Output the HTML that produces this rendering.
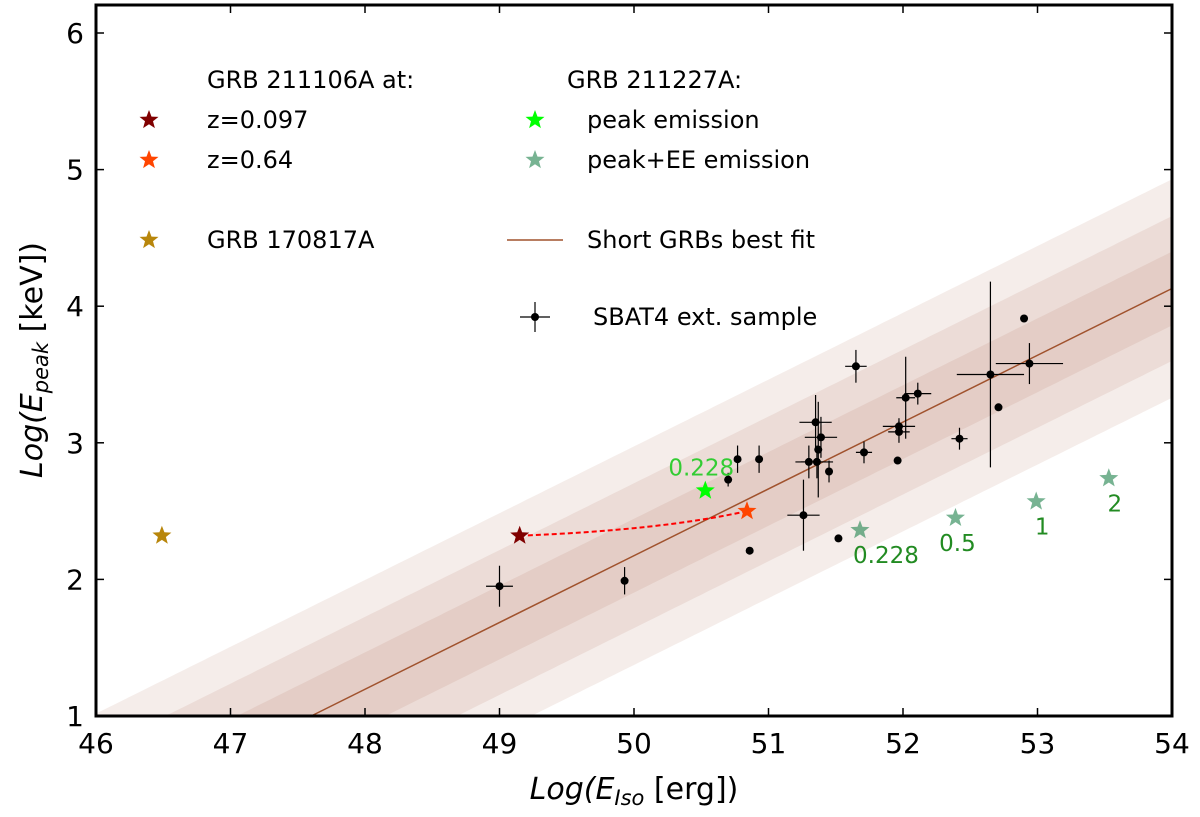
<!DOCTYPE html>
<html><head><meta charset="utf-8"><style>
html,body{margin:0;padding:0;background:#fff;overflow:hidden;width:1200px;height:817px;font-family:"Liberation Sans","DejaVu Sans",sans-serif}
svg{display:block;overflow:hidden}
svg text{font-family:"DejaVu Sans","Liberation Sans",sans-serif}
</style></head><body>
<svg id="c" width="1200" height="817" viewBox="0 0 1200 817"></svg>
<script>
const sampleX=[49.0,49.93,50.86,51.26,51.52,50.70,50.77,50.93,51.30,51.36,51.37,51.35,51.39,51.45,51.71,51.65,51.96,51.97,51.97,52.02,52.11,52.42,52.65,52.71,52.90,52.94];
const sampleY=[1.95,1.99,2.21,2.47,2.30,2.73,2.88,2.88,2.86,2.86,2.95,3.15,3.04,2.79,2.93,3.56,2.87,3.08,3.12,3.33,3.36,3.03,3.50,3.26,3.91,3.58];
const sampleYErr=[0.15,0.1,0,0.26,0,0.05,0.1,0.1,0.12,0.12,0.35,0.2,0.15,0.08,0.08,0.12,0,0.08,0.06,0.3,0.08,0.08,0.68,0,0,0.15];
const sampleXErr=[0.1,0,0,0.12,0,0,0,0,0.1,0.12,0,0.12,0.12,0,0.06,0.08,0,0.08,0.12,0.07,0.1,0.06,0.25,0,0,0.25];
const eeX=[51.68,52.39,52.99,53.53];
const eeY=[2.36,2.45,2.57,2.74];
const eeLabels=["0.228","0.5","1","2"];
const peakX=50.53, peakY=2.65;
const grbA=[49.15,2.32], grbB=[50.84,2.50], grb170=[46.49,2.32];
const fitX0=47.6, fitSlope=0.489, bands=[0.8,0.53,0.27];
const xTicks=[46,47,48,49,50,51,52,53,54];
const yTicks=[1,2,3,4,5,6];
const L=96,R=1172,T=5,B=716,YMAX=1+(B-T)/136.6;
const X=v=>L+(v-46)*(R-L)/8;
const Y=v=>B-(v-1)*136.6;
const svg=document.getElementById('c');const NS='http://www.w3.org/2000/svg';
function mk(t,a,p){const e=document.createElementNS(NS,t);for(const k in a)e.setAttribute(k,a[k]);(p||svg).appendChild(e);return e;}
const fy=x=>1+fitSlope*(x-fitX0);
const cl=v=>Math.max(1,Math.min(YMAX,v));
bands.forEach((o,i)=>{
 const up=[],lo=[];
 for(let k=0;k<=160;k++){const x=46+8*k/160;up.push(X(x).toFixed(1)+','+Y(cl(fy(x)+o)).toFixed(1));lo.unshift(X(x).toFixed(1)+','+Y(cl(fy(x)-o)).toFixed(1));}
 const p=mk('polygon',{points:up.concat(lo).join(' '),fill:'#a0522d','fill-opacity':0.1});
 
 
});
const fl=mk('line',{x1:X(fitX0),y1:Y(1),x2:X(54),y2:Y(fy(54)),stroke:'#a0522d','stroke-width':1.5});


function star(cx,cy,r,fill,name,op){const pts=[];for(let i=0;i<10;i++){const a=-Math.PI/2+i*Math.PI/5;const rr=i%2?r*0.42:r;pts.push((cx+rr*Math.cos(a)).toFixed(1)+','+(cy+rr*Math.sin(a)).toFixed(1));}
 const s=mk('polygon',{points:pts.join(' '),fill:fill,'fill-opacity':op||1});
 
 return s;}
sampleX.forEach((x,i)=>{const cx=X(x),cy=Y(sampleY[i]);
 if(sampleYErr[i])mk('line',{x1:cx,x2:cx,y1:Y(sampleY[i]+sampleYErr[i]),y2:Y(sampleY[i]-sampleYErr[i]),stroke:'#000','stroke-width':1.2});
 if(sampleXErr[i])mk('line',{x1:X(x-sampleXErr[i]),x2:X(x+sampleXErr[i]),y1:cy,y2:cy,stroke:'#000','stroke-width':1.2});
 const d=mk('circle',{cx:cx,cy:cy,r:4,fill:'#000'});
 
 
});
const dl=mk('path',{d:`M${X(grbA[0])},${Y(grbA[1])} Q${X(50.2)},${Y(2.36)} ${X(grbB[0])},${Y(grbB[1])}`,stroke:'#ff0000','stroke-width':2,'stroke-dasharray':'5,3',fill:'none'});


star(X(grbA[0]),Y(grbA[1]),10,'#800000','grb211106a-z0097');
star(X(grbB[0]),Y(grbB[1]),10,'#ff4500','grb211106a-z064');
star(X(grb170[0]),Y(grb170[1]),10,'#b8860b','grb170817a');
star(X(peakX),Y(peakY),10,'#00ff00','grb211227a-peak');
function txt(x,y,s,opt){const t=mk('text',Object.assign({x:x,y:y,'font-size':24,fill:'#000'},opt||{}));t.textContent=s;return t;}
const pl=txt(X(peakX)-4,Y(peakY)-15,'0.228',{fill:'#33cc33','text-anchor':'middle','font-size':23});


eeX.forEach((x,i)=>{star(X(x),Y(eeY[i]),10,'#2e8b57','grb211227a-ee-'+i,0.65);
 const t=txt(X(x)+(i==0?26:i==1?2:6),Y(eeY[i])+33,eeLabels[i],{fill:'#228b22','text-anchor':'middle','font-size':23});
 
 });
mk('rect',{x:L,y:T,width:R-L,height:B-T,fill:'none',stroke:'#000','stroke-width':3});
xTicks.forEach(v=>{mk('line',{x1:X(v),x2:X(v),y1:B,y2:B-8,stroke:'#000','stroke-width':1.5});mk('line',{x1:X(v),x2:X(v),y1:T,y2:T+8,stroke:'#000','stroke-width':1.5});
 const t=txt(X(v),B+37,String(v),{'text-anchor':'middle','font-size':28});
 
 });
yTicks.forEach(v=>{mk('line',{x1:L,x2:L+8,y1:Y(v),y2:Y(v),stroke:'#000','stroke-width':1.5});mk('line',{x1:R,x2:R-8,y1:Y(v),y2:Y(v),stroke:'#000','stroke-width':1.5});
 const t=txt(L-12,Y(v)+10,String(v),{'text-anchor':'end','font-size':28});
 
 });
const xt=mk('text',{x:634,y:799,'font-size':30,'text-anchor':'middle'});xt.innerHTML='<tspan font-style="italic">Log(E</tspan><tspan font-style="italic" font-size="21" dy="6">Iso</tspan><tspan dy="-6"> [erg])</tspan>';


const yt=mk('text',{x:0,y:0,'font-size':30,'text-anchor':'middle',transform:'translate(42,360) rotate(-90)'});yt.innerHTML='<tspan font-style="italic">Log(E</tspan><tspan font-style="italic" font-size="21" dy="6">peak</tspan><tspan dy="-6"> [keV])</tspan>';


const lg=mk('g',{});
txt(207,88,'GRB 211106A at:');
star(149,120,10,'#800000','legend-z0097');txt(207,128,'z=0.097');
star(149,160,10,'#ff4500','legend-z064');txt(207,168,'z=0.64');
star(149,240,10,'#b8860b','legend-grb170817a');txt(207,248,'GRB 170817A');
txt(567,88,'GRB 211227A:');
star(535,120,10,'#00ff00','legend-peak');txt(587,128,'peak emission');
star(535,160,10,'#2e8b57','legend-peak-ee',0.65);txt(587,168,'peak+EE emission');
const ll=mk('line',{x1:507,x2:563,y1:240,y2:240,stroke:'#a0522d','stroke-width':1.5});
txt(587,248,'Short GRBs best fit');
mk('line',{x1:520,x2:550,y1:317,y2:317,stroke:'#000','stroke-width':1.2});mk('line',{x1:535,x2:535,y1:302,y2:332,stroke:'#000','stroke-width':1.2});
const lc=mk('circle',{cx:535,cy:317,r:4,fill:'#000'});
txt(593,325,'SBAT4 ext. sample');
</script>
</body></html>
